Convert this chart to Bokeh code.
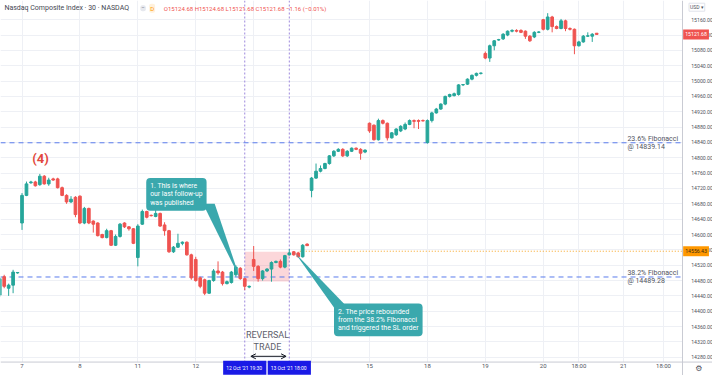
from bokeh.plotting import figure
from bokeh.models import (Range1d, FixedTicker, Span, BoxAnnotation, Label, Arrow, Grid,
                          LinearAxis, OpenHead, ColumnDataSource, NumeralTickFormatter)
from bokeh.embed import file_html
from bokeh.resources import INLINE

# ---------------- data (30-min bars, Nasdaq Composite) ----------------
bar_index = list(range(-5, 130))

open_ = [
    14442, 14490, 14460, 14468, 14500,
    14630, 14702, 14735, 14737, 14730, 14752, 14732, 14745, 14745, 14722, 14702, 14685, 14697,
    14700, 14630, 14668, 14635, 14630, 14600, 14592, 14610, 14572, 14595, 14630, 14620, 14615,
    14540, 14627, 14660, 14650, 14647, 14655, 14625, 14610, 14555, 14567, 14577, 14580, 14547,
    14535, 14487, 14482, 14447, 14480, 14505, 14502, 14472, 14475, 14495, 14512, 14485, 14463,
    14535, 14517, 14485, 14505, 14510, 14527, 14530, 14515, 14547, 14555, 14552, 14542, 14575,
    14715, 14747, 14765, 14772, 14785, 14805, 14817, 14822, 14805, 14817, 14825, 14822, 14815,
    14890, 14885, 14847, 14897, 14890, 14852, 14860, 14870, 14875, 14887, 14897, 14897, 14897,
    14840, 14897, 14917, 14927, 14940, 14960, 14962, 14965, 14990, 14992, 15005, 15015, 15020,
    15072, 15060, 15092, 15107, 15110, 15120, 15130, 15132, 15132, 15130, 15117, 15115, 15127,
    15160, 15135, 15167, 15142, 15137, 15157, 15137, 15135, 15092, 15102, 15117, 15117, 15124.68,
]
high = [
    14490, 14495, 14472, 14508, 14502,
    14708, 14738, 14740, 14740, 14758, 14755, 14748, 14748, 14748, 14725, 14705, 14700, 14700,
    14702, 14672, 14670, 14637, 14632, 14602, 14615, 14612, 14600, 14630, 14632, 14622, 14617,
    14627, 14665, 14662, 14652, 14672, 14657, 14632, 14612, 14570, 14602, 14582, 14582, 14550,
    14542, 14490, 14485, 14482, 14510, 14530, 14505, 14480, 14505, 14520, 14515, 14487, 14467,
    14570, 14520, 14507, 14512, 14530, 14532, 14535, 14547, 14562, 14557, 14555, 14575, 14577,
    14750, 14785, 14780, 14787, 14807, 14820, 14825, 14825, 14820, 14827, 14827, 14825, 14822,
    14892, 14887, 14902, 14900, 14892, 14867, 14877, 14885, 14892, 14900, 14900, 14900, 14900,
    14900, 14920, 14930, 14942, 14962, 14967, 14970, 14992, 14992, 15007, 15017, 15022, 15022,
    15077, 15095, 15107, 15110, 15125, 15132, 15135, 15135, 15135, 15132, 15120, 15130, 15130,
    15162, 15177, 15170, 15145, 15162, 15160, 15140, 15137, 15105, 15120, 15127, 15125, 15124.68,
]
low = [
    14437, 14460, 14440, 14447, 14498,
    14612, 14700, 14732, 14725, 14727, 14730, 14727, 14740, 14720, 14700, 14680, 14682, 14645,
    14627, 14627, 14627, 14605, 14595, 14590, 14590, 14570, 14570, 14592, 14617, 14610, 14575,
    14517, 14625, 14642, 14647, 14645, 14620, 14597, 14552, 14552, 14565, 14572, 14545, 14482,
    14477, 14460, 14442, 14445, 14477, 14495, 14467, 14470, 14472, 14490, 14482, 14455, 14460,
    14505, 14477, 14480, 14502, 14477, 14525, 14512, 14512, 14545, 14545, 14540, 14540, 14570,
    14697, 14745, 14762, 14770, 14782, 14802, 14815, 14802, 14802, 14815, 14820, 14795, 14812,
    14865, 14845, 14845, 14887, 14845, 14850, 14857, 14867, 14872, 14885, 14877, 14875, 14895,
    14837, 14892, 14915, 14925, 14937, 14957, 14960, 14962, 14987, 14990, 15002, 15012, 15017,
    15057, 15050, 15080, 15105, 15107, 15117, 15127, 15127, 15125, 15110, 15102, 15112, 15125,
    15132, 15132, 15127, 15135, 15135, 15130, 15132, 15070, 15090, 15100, 15115, 15102, 15121.68,
]
close = [
    14485, 14465, 14468, 14502, 14501,
    14702, 14732, 14737, 14727, 14752, 14732, 14742, 14742, 14722, 14702, 14685, 14692, 14652,
    14630, 14668, 14630, 14627, 14597, 14592, 14610, 14572, 14595, 14627, 14620, 14615, 14577,
    14622, 14660, 14645, 14649, 14655, 14622, 14610, 14555, 14567, 14577, 14580, 14547, 14487,
    14480, 14465, 14447, 14480, 14505, 14500, 14472, 14477, 14502, 14515, 14485, 14465, 14465,
    14517, 14485, 14505, 14510, 14527, 14530, 14515, 14545, 14552, 14547, 14542, 14572, 14571,
    14747, 14765, 14772, 14785, 14805, 14817, 14822, 14805, 14817, 14825, 14822, 14812, 14820,
    14870, 14847, 14897, 14890, 14852, 14865, 14875, 14882, 14887, 14897, 14895, 14895, 14896,
    14897, 14917, 14927, 14940, 14960, 14965, 14967, 14990, 14991, 15005, 15015, 15020, 15021,
    15060, 15092, 15105, 15108, 15122, 15130, 15132, 15130, 15127, 15117, 15105, 15127, 15128,
    15135, 15167, 15142, 15137, 15157, 15137, 15135, 15092, 15102, 15117, 15118, 15122, 15121.68,
]

price_ticks = [14280, 14320, 14360, 14400, 14440, 14480, 14520, 14560, 14600, 14640, 14680,
               14720, 14760, 14800, 14840, 14880, 14920, 14960, 15000, 15040, 15080, 15120, 15160]
time_ticks = [0, 13, 26, 39, 52, 65, 78, 91, 104, 117, 125, 135, 144]
time_labels = ["7", "8", "11", "12", "", "", "15", "18", "19", "20", "18:00", "21", "18:00"]

fib_236 = 14839.14
fib_382 = 14489.28
sl_level = 14556.43
last_open = 15124.68
last_price = 15121.68
reversal_bars = [50, 60]
reversal_box = [14477.5, 14555.0]

# ---------------- layout helpers (reference pixel -> data) ----------------
BAR_PX, X0_PX = 4.555, 22.0
def X(px):
    return (px - X0_PX) / BAR_PX
def Y(py):
    return 15210 - 2.5 * py

UP, DOWN = "#26a69a", "#ef5350"
TEAL = "#3aa8ad"
FONT = "Roboto"
AXIS_X, AXIS_Y = X(697), Y(377)

colors = [UP if c >= o else DOWN for o, c in zip(open_, close)]
src = ColumnDataSource(dict(
    x=bar_index, o=open_, h=high, l=low, c=close, color=colors,
    top=[max(o, c) for o, c in zip(open_, close)],
    bottom=[min(o, c) for o, c in zip(open_, close)],
))

p = figure(width=712, height=375, x_range=Range1d(X(0), X(728)), y_range=Range1d(Y(391), Y(0)),
           x_axis_location=None, y_axis_location=None,
           output_backend="svg", toolbar_location=None, min_border=0)
p.center = []
p.outline_line_color = None
p.background_fill_color = "white"
p.border_fill_color = "white"

xticker = FixedTicker(ticks=time_ticks)
yticker = FixedTicker(ticks=price_ticks)
p.add_layout(Grid(dimension=0, ticker=xticker, grid_line_color="#eef0f5"))
p.add_layout(Grid(dimension=1, ticker=yticker, grid_line_color="#eef0f5"))

# reversal zone
p.add_layout(BoxAnnotation(left=reversal_bars[0], right=reversal_bars[1],
                           bottom=reversal_box[0], top=reversal_box[1],
                           fill_color="#f23645", fill_alpha=0.2, line_color=None, level="underlay"))
for xb in reversal_bars:
    p.add_layout(Span(location=xb, dimension="height", line_color="#9d88dd",
                      line_dash="2 2", line_width=1, level="underlay"))

# fibonacci levels
for lv in (fib_236, fib_382):
    p.add_layout(Span(location=lv, dimension="width", line_color="#5a7cec",
                      line_dash="5 4", line_width=1, level="underlay"))

# SL / orange level line
p.segment(x0=[X(306)], x1=[AXIS_X], y0=[sl_level], y1=[sl_level],
          line_color="#f7a21b", line_dash="1 2", line_width=1)

# candles
p.segment(x0="x", y0="l", x1="x", y1="h", line_color="color", line_width=1, source=src)
p.vbar(x="x", width=0.6, top="top", bottom="bottom", fill_color="color",
       line_color="color", line_width=1, source=src)

# callout tails
p.patch(x=[X(245), X(207), X(219)], y=[Y(290), Y(212), Y(212)], color=TEAL, line_width=0)
p.patch(x=[X(301), X(341), X(352)], y=[Y(263), Y(320), Y(317)], color=TEAL, line_width=0)

# white axis strips (right price scale, bottom time scale)
p.add_layout(BoxAnnotation(left=AXIS_X, fill_color="white", fill_alpha=1, line_color=None, level="glyph"))
p.add_layout(BoxAnnotation(top=AXIS_Y, right=AXIS_X, fill_color="white", fill_alpha=1,
                           line_color=None, level="glyph"))
# time-scale separator line
p.add_layout(Span(location=AXIS_Y, dimension="width", line_color="#c9cbd3", line_width=1, level="guide"))

# axes drawn at fixed locations (time labels sit above a baseline at the bottom edge)
yax = LinearAxis(fixed_location=AXIS_X, ticker=yticker, formatter=NumeralTickFormatter(format="0.00"))
xax = LinearAxis(fixed_location=Y(391), ticker=xticker,
                 major_label_overrides={t: s for t, s in zip(time_ticks, time_labels)})
for ax in (xax, yax):
    ax.major_tick_line_color = None
    ax.minor_tick_line_color = None
    ax.axis_line_color = "#c9cbd3"
    ax.major_label_text_font = FONT
    ax.major_label_text_color = "#50535e"
xax.axis_line_color = None
yax.major_label_text_font_size = "5.2px"
xax.major_label_text_font_size = "6px"
yax.major_label_standoff = 3
xax.major_label_standoff = 1
p.add_layout(yax, "right")
p.add_layout(xax, "above")

# callouts
p.add_layout(Label(x=X(149), y=Y(185), anchor="top_left",
                   text="1. This is where\nour last follow-up\nwas published",
                   text_font=FONT, text_font_size="6.8px", text_color="white",
                   text_line_height=1.05, background_fill_color=TEAL,
                   padding=4, border_radius=4))
p.add_layout(Label(x=X(341), y=Y(316), anchor="top_left",
                   text="2. The price rebounded\nfrom the 38.2% Fibonacci\nand triggered the SL order",
                   text_font=FONT, text_font_size="7px", text_color="white",
                   text_line_height=1.05, background_fill_color=TEAL,
                   padding=4, border_radius=4))

# wave label
p.add_layout(Label(x=X(41), y=Y(165), text="(4)", text_align="center", text_baseline="middle",
                   text_font=FONT, text_font_size="13px", text_font_style="bold",
                   text_color="#e2473d"))

# fibonacci texts
p.add_layout(Label(x=X(641), y=fib_236, text="23.6% Fibonacci\n@ 14839.14",
                   text_align="left", text_baseline="middle", text_font=FONT,
                   text_font_size="7px", text_color="#50535e", text_line_height=1.0))
p.add_layout(Label(x=X(641), y=fib_382, text="38.2% Fibonacci\n@ 14489.28",
                   text_align="left", text_baseline="middle", text_font=FONT,
                   text_font_size="7px", text_color="#50535e", text_line_height=1.0))

# reversal trade text + arrow
p.add_layout(Label(x=X(273), y=Y(355), text="REVERSAL\nTRADE", text_align="center",
                   text_baseline="middle", text_font=FONT, text_font_size="9px",
                   text_color="#5d606b", text_line_height=1.25))
p.add_layout(Arrow(x_start=X(256), x_end=X(292), y_start=Y(371), y_end=Y(371),
                   start=OpenHead(size=5, line_width=1, line_color="#131722"),
                   end=OpenHead(size=5, line_width=1, line_color="#131722"),
                   line_width=1, line_color="#131722"))

# header
p.add_layout(Label(x=X(4), y=Y(8), text="Nasdaq Composite Index · 30 · NASDAQ",
                   text_baseline="middle", text_font=FONT, text_font_size="7px",
                   text_color="#434651"))
p.add_layout(Label(x=X(143), y=Y(8), text="−", text_baseline="middle", text_font=FONT,
                   text_font_size="6px", text_color="#787b86", background_fill_color="#e6e8ee",
                   padding=1, border_radius=2))
p.add_layout(Label(x=X(152), y=Y(8), text="D", text_baseline="middle", text_font=FONT,
                   text_font_size="6px", text_color="#ff9800", background_fill_color="#fff1dc",
                   padding=1, border_radius=2))
p.add_layout(Label(x=X(167), y=Y(8),
                   text=f"O{last_open:.2f} H{last_open:.2f} L{last_price:.2f} C{last_price:.2f} −1.16 (−0.01%)",
                   text_baseline="middle", text_font=FONT, text_font_size="6px",
                   text_color="#ef5350"))

# price axis badges
p.add_layout(Label(x=X(698), y=last_price, text=f"{last_price:.2f}", text_baseline="middle",
                   text_font=FONT, text_font_size="5.2px", text_color="white",
                   background_fill_color="#ef5350", padding=(2, 3)))
p.add_layout(Label(x=X(698), y=sl_level, text=f"{sl_level:.2f}", text_baseline="middle",
                   text_font=FONT, text_font_size="5.2px", text_color="#3b2a12",
                   background_fill_color="#ff9800", padding=(2, 3)))
p.add_layout(Label(x=X(704), y=Y(7), text="USD ▾", text_baseline="middle",
                   text_font=FONT, text_font_size="5px", text_color="#50535e",
                   background_fill_color="white", border_line_color="#e0e3eb", padding=1))
p.add_layout(Label(x=X(714), y=Y(384), text="⚙", text_align="center", text_baseline="middle",
                   text_font="DejaVu Sans", text_font_size="8px", text_color="#50535e"))

# time axis badges
p.add_layout(Label(x=reversal_bars[0], y=Y(383), text="12 Oct '21  19:30", text_align="center",
                   text_baseline="middle", text_font=FONT, text_font_size="5px",
                   text_color="white", background_fill_color="#1a1ae6", padding=(3, 4)))
p.add_layout(Label(x=reversal_bars[1], y=Y(383), text="13 Oct '21  18:00", text_align="center",
                   text_baseline="middle", text_font=FONT, text_font_size="5px",
                   text_color="white", background_fill_color="#1a1ae6", padding=(3, 4)))

open("out.html", "w").write(file_html(p, INLINE))
